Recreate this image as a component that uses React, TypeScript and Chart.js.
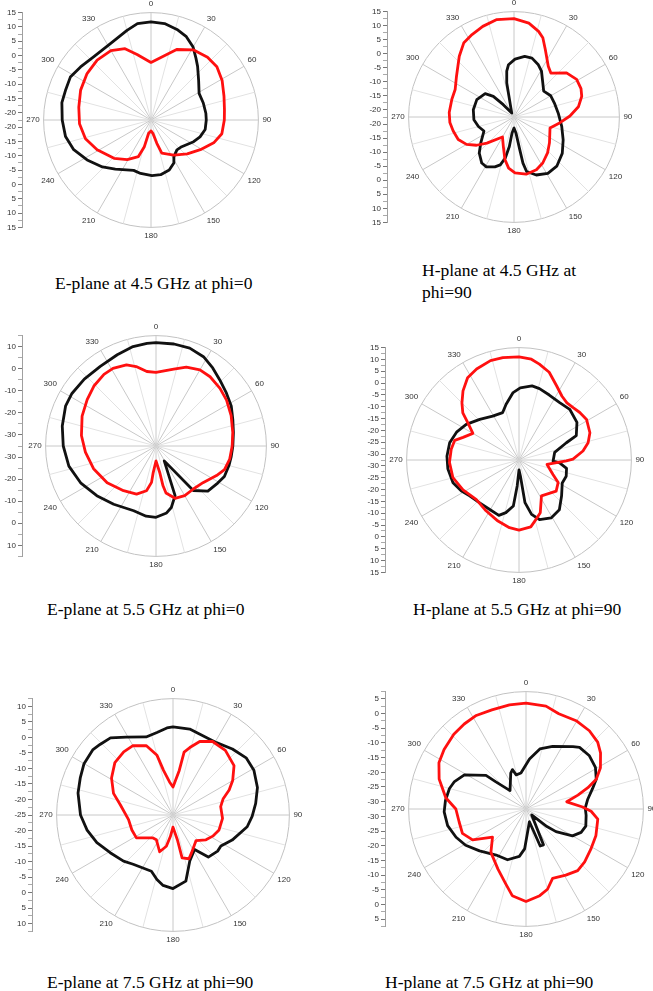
import React, { useEffect, useRef } from 'react';
import { Chart, registerables } from 'chart.js';

Chart.register(...registerables);

// Angle categories: one per degree, clockwise from the top.
const ANGLE_LABELS: string[] = Array.from({ length: 360 }, (_, i) => String(i));

// ---- E-plane at 4.5 GHz (phi = 0) ----
const e45BlackAngles = [0, 8, 16, 23, 30, 36, 41, 50, 61, 72, 83, 90, 100, 109, 117, 131, 139, 148, 152, 160, 170, 179, 191, 199, 216, 226, 238, 249, 259, 270, 281, 289, 298, 307, 318, 332, 345, 352];
const e45BlackGain = [11.8, 11.5, 10.4, 9.1, 6.9, 4.2, 2.3, -0.8, -3.3, -3.3, -3.2, -3.2, -3.3, -4.4, -5.8, -8.3, -8.7, -7.4, -5.5, -3.9, -3.1, -3.1, -3.5, -3.9, -1.3, 1.1, 3.8, 6.4, 7.9, 8.5, 9.2, 9.1, 9.4, 8.3, 7.3, 7.7, 9.9, 11.5];
const e45RedAngles = [0, 20, 31, 42, 51, 61, 72, 82, 90, 101, 110, 121, 133, 147, 162, 166, 172, 180, 190, 194, 199, 211, 224, 241, 254, 267, 280, 293, 306, 318, 330, 340, 348];
const e45RedGain = [-2.4, 3.7, 6.1, 7.0, 7.1, 5.9, 4.3, 3.4, 3.1, 2.7, 0.8, -2.4, -5.2, -7.9, -10.3, -14.1, -17.8, -18.7, -17.8, -12.9, -9.0, -6.4, -3.9, -1.0, 1.3, 2.5, 3.1, 4.2, 5.1, 5.6, 5.5, 4.0, 0.9];

// ---- H-plane at 4.5 GHz (phi = 90) ----
const h45BlackAngles = [1, 10, 17, 25, 31, 39, 49, 60, 71, 85, 101, 115, 127, 139, 149, 159, 167, 169, 170, 173, 180, 187, 189, 192, 196, 201, 209, 215, 224, 232, 245, 255, 266, 280, 295, 309, 315, 319, 330, 348, 351, 354];
const h45BlackGain = [-1.9, -0.6, -0.6, -2.0, -3.5, -6.3, -8.5, -7.4, -7.3, -6.7, -5.2, -3.2, -1.0, 0.7, 0.9, -0.4, -2.6, -5.8, -10.7, -16.8, -18.6, -16.8, -11.9, -7.6, -4.8, -3.5, -2.2, -2.5, -4.7, -7.5, -10.7, -9.4, -8.2, -7.8, -7.9, -9.3, -12.1, -16.7, -20.9, -10.1, -6.0, -3.8];
const h45RedAngles = [0, 9, 16, 20, 25, 34, 40, 50, 59, 67, 73, 81, 89, 97, 107, 126, 137, 148, 157, 168, 179, 186, 192, 200, 210, 226, 233, 240, 248, 257, 265, 274, 286, 295, 305, 318, 326, 333, 341, 350];
const h45RedGain = [12.5, 11.3, 9.2, 7.5, 3.9, -0.7, -2.1, 1.9, 3.5, 3.4, 2.7, 0.7, -2.6, -6.0, -9.1, -6.9, -5.0, -3.2, -2.1, -1.7, -2.6, -4.2, -7.0, -11.4, -14.3, -9.1, -5.8, -3.0, -1.1, -0.3, 0.4, 0.6, 0.5, 0.6, 2.5, 6.6, 9.4, 10.4, 11.6, 12.7];

// ---- E-plane at 5.5 GHz (phi = 0) ----
const e55BlackAngles = [0, 10, 19, 28, 36, 44, 53, 62, 71, 80, 90, 98, 105, 114, 121, 131, 140, 151, 159, 166, 171, 180, 188, 199, 216, 230, 244, 257, 270, 282, 294, 302, 313, 325, 337, 347, 355];
const e55BlackGain = [11.8, 11.9, 11.9, 10.8, 8.7, 6.6, 4.9, 3.6, 1.8, 0.6, -0.2, -0.6, -0.8, -1.1, -2.4, -3.9, -8.7, -27.3, -10.9, -6.3, -4.3, -2.7, -2.9, -4.0, -2.4, 0.0, 3.0, 5.5, 7.0, 8.4, 9.8, 9.9, 9.4, 9.0, 9.9, 11.2, 11.7];
const e55RedAngles = [0, 13, 21, 30, 38, 48, 57, 68, 80, 90, 100, 109, 116, 128, 139, 150, 160, 168, 170, 172, 180, 186, 187, 192, 202, 216, 233, 250, 265, 278, 292, 304, 314, 324, 331, 340, 346, 353];
const e55RedGain = [-1.7, 0.7, 3.3, 4.8, 4.8, 4.0, 3.1, 1.7, 0.3, -0.5, -1.1, -2.2, -4.5, -8.0, -9.2, -9.0, -9.8, -13.2, -16.7, -22.9, -28.2, -22.9, -18.4, -14.3, -11.5, -10.0, -7.3, -4.9, -2.9, -0.9, 1.1, 2.6, 4.1, 5.1, 5.2, 4.1, 2.1, -1.0];

// ---- H-plane at 5.5 GHz (phi = 90) ----
const h55BlackAngles = [1, 10, 16, 25, 35, 45, 57, 67, 70, 78, 92, 94, 100, 109, 118, 130, 141, 151, 161, 167, 172, 175, 180, 184, 187, 194, 200, 211, 223, 234, 242, 251, 263, 273, 284, 294, 304, 316, 329, 341, 347, 355];
const h55BlackGain = [-2.0, -0.7, -1.1, -2.2, -2.8, -2.2, -3.3, -6.2, -11.2, -17.1, -18.1, -15.3, -12.1, -11.4, -11.8, -9.0, -5.4, -4.5, -5.9, -8.9, -14.3, -25.7, -28.3, -21.5, -12.9, -9.6, -7.6, -8.2, -7.9, -6.7, -4.8, -3.0, -2.2, -2.0, -2.3, -3.6, -5.6, -8.6, -10.9, -11.3, -8.3, -3.9];
const h55RedAngles = [0, 7, 12, 19, 27, 34, 40, 46, 52, 59, 69, 76, 82, 89, 91, 99, 113, 120, 130, 148, 158, 164, 170, 180, 188, 199, 213, 227, 242, 255, 268, 279, 287, 292, 300, 306, 310, 315, 321, 328, 335, 344, 351];
const h55RedGain = [11.1, 10.4, 8.9, 6.7, 2.6, 0.0, -1.0, -0.7, 0.1, 0.8, -0.4, -2.4, -5.2, -9.7, -12.5, -20.5, -16.9, -13.4, -12.0, -14.6, -8.5, -6.4, -3.8, -2.9, -3.6, -5.2, -6.9, -7.9, -5.7, -3.6, -3.1, -3.5, -4.1, -7.0, -10.0, -5.8, -1.5, 1.6, 5.1, 8.5, 9.9, 11.2, 11.3];

// ---- E-plane at 7.5 GHz (phi = 90) ----
const e75BlackAngles = [0, 11, 21, 31, 42, 52, 61, 72, 82, 91, 99, 113, 123, 129, 140, 148, 160, 169, 180, 188, 194, 201, 219, 227, 239, 250, 260, 270, 283, 292, 300, 309, 314, 321, 329, 341, 349, 356];
const e75BlackGain = [3.4, 3.2, 2.3, 2.2, 3.6, 4.9, 4.8, 3.6, 1.9, 0.5, -0.8, -4.3, -6.6, -6.5, -7.3, -11.9, -9.2, -3.3, -1.3, -2.1, -3.6, -5.6, -4.6, -3.2, -1.4, 1.1, 3.1, 4.8, 6.4, 7.2, 8.1, 8.3, 7.7, 7.0, 4.3, 1.6, 2.1, 3.1];
const e75RedAngles = [0, 8, 10, 14, 20, 28, 39, 51, 60, 66, 72, 80, 94, 108, 118, 127, 138, 154, 160, 168, 170, 180, 187, 192, 200, 214, 221, 238, 250, 264, 281, 290, 301, 312, 322, 330, 339, 345, 348, 354];
const e75RedGain = [-16.0, -10.5, -4.4, -2.6, 0.2, 1.9, 1.8, 0.3, -2.8, -5.2, -8.0, -9.4, -9.0, -9.4, -10.5, -11.7, -13.9, -11.4, -10.0, -10.9, -16.9, -21.1, -18.0, -14.7, -12.4, -15.4, -15.2, -11.1, -10.9, -10.6, -7.7, -4.6, -1.9, 0.2, 0.8, 0.8, -1.1, -5.1, -10.3, -14.3];

// ---- H-plane at 7.5 GHz (phi = 90) ----
const h75BlackAngles = [4, 13, 23, 37, 41, 50, 59, 67, 73, 81, 89, 96, 106, 113, 120, 127, 130, 136, 154, 159, 165, 182, 188, 200, 213, 228, 239, 248, 258, 268, 276, 285, 291, 299, 310, 312, 319, 337, 341, 344, 352];
const h75BlackGain = [-15.4, -11.5, -9.3, -5.9, -4.7, -4.3, -4.9, -6.5, -8.8, -11.2, -12.3, -11.9, -11.3, -12.1, -14.2, -19.7, -23.2, -29.7, -18.9, -19.0, -28.0, -18.9, -16.2, -14.1, -13.8, -11.2, -8.5, -6.8, -5.2, -4.6, -4.9, -5.5, -6.4, -8.5, -14.7, -18.7, -24.2, -19.2, -18.3, -20.4, -20.1];
const h75RedAngles = [0, 11, 19, 30, 39, 47, 53, 61, 67, 71, 75, 80, 88, 92, 98, 111, 122, 132, 140, 149, 159, 165, 171, 180, 189, 195, 205, 219, 230, 240, 249, 259, 270, 278, 289, 298, 306, 316, 324, 332, 341, 351];
const h75RedGain = [3.6, 3.2, 1.8, 2.1, 1.8, 0.9, -0.7, -3.5, -6.5, -10.2, -14.2, -18.4, -13.2, -10.3, -7.8, -7.0, -6.5, -5.6, -5.1, -6.2, -7.2, -4.2, -2.6, -1.0, -2.6, -6.0, -9.9, -13.5, -17.6, -11.5, -9.3, -9.3, -8.6, -4.9, -1.2, 1.1, 2.0, 2.9, 3.3, 3.6, 3.2, 3.4];

// Radial ranges (dB at centre, dB at outer ring) and label step of the side axis.
const e45Range = [-22.5, 15, 5];
const h45Range = [-22.5, 15, 5];
const e55Range = [-35, 15, 10];
const h55Range = [-32.5, 15, 5];
const e75Range = [-25, 12.5, 5];
const h75Range = [-32.5, 7.5, 5];

const captionE45 = ['E-plane at 4.5 GHz at phi=0'];
const captionH45 = ['H-plane at 4.5 GHz at', 'phi=90'];
const captionE55 = ['E-plane at 5.5 GHz at phi=0'];
const captionH55 = ['H-plane at 5.5 GHz at phi=90'];
const captionE75 = ['E-plane at 7.5 GHz at phi=90'];
const captionH75 = ['H-plane at 7.5 GHz at phi=90'];

const AXIS_WIDTH = 22;
const LABEL_FONT = '"Liberation Sans", Arial, sans-serif';

function toSeries(angles: number[], gains: number[]): (number | null)[] {
  const out: (number | null)[] = new Array(360).fill(null);
  angles.forEach((a, i) => {
    out[((a % 360) + 360) % 360] = gains[i];
  });
  return out;
}

// Keeps the side dB axis the same length as the polar circle's diameter.
const axisToCircle = {
  id: 'axisToCircle',
  afterLayout(chart: any) {
    const r = chart.scales.r;
    const y = chart.scales.y;
    if (!r || !y) return;
    const top = r.yCenter - r.drawingArea;
    const bottom = r.yCenter + r.drawingArea;
    y.top = top;
    y.bottom = bottom;
    y.height = bottom - top;
    y.configure();
    chart.chartArea.top = top;
    chart.chartArea.bottom = bottom;
    chart.chartArea.height = bottom - top;
  },
};

type PanelProps = {
  box: { left: number; top: number; width: number; height: number };
  range: number[];
  black: [number[], number[]];
  red: [number[], number[]];
};

function PolarPanel({ box, range, black, red }: PanelProps) {
  const ref = useRef<HTMLCanvasElement>(null);

  useEffect(() => {
    if (!ref.current) return;
    const [rMin, rMax, step] = range;
    const span = rMax - rMin;
    const minor = step / 2;
    const isMajor = (v: number) => {
      const L = rMin + Math.abs(v);
      return Math.abs(L / step - Math.round(L / step)) < 1e-6;
    };
    const yTicks: number[] = [];
    for (let v = 0; v <= span + 1e-6; v += minor) {
      yTicks.push(v);
      if (v > 0) yTicks.push(-v);
    }
    yTicks.sort((a, b) => a - b);

    const lineStyle = {
      borderWidth: 2.8,
      borderJoinStyle: 'round',
      borderCapStyle: 'round',
      pointRadius: 0,
      pointHoverRadius: 0,
      fill: false,
      spanGaps: true,
      tension: 0,
      clip: false,
    };

    const chart = new Chart(ref.current, {
      type: 'radar',
      data: {
        labels: ANGLE_LABELS,
        datasets: [
          { data: toSeries(red[0], red[1]), borderColor: '#ff1010', ...lineStyle } as any,
          { data: toSeries(black[0], black[1]), borderColor: '#111111', ...lineStyle } as any,
        ],
      },
      options: {
        responsive: false,
        animation: false,
        events: [],
        layout: { padding: 0 },
        plugins: { legend: { display: false }, tooltip: { enabled: false } },
        scales: {
          r: {
            type: 'radialLinear',
            min: rMin,
            max: rMax,
            beginAtZero: false,
            startAngle: 0,
            afterBuildTicks: (s: any) => {
              s.ticks = [{ value: rMin }, { value: rMax }];
            },
            ticks: { display: false },
            grid: { circular: true, color: '#c2c2c2', lineWidth: 1 },
            angleLines: {
              display: true,
              color: (c: any) => (c.index % 30 === 0 ? '#c8c8c8' : c.index % 15 === 0 ? '#e2e2e2' : 'rgba(0,0,0,0)'),
              lineWidth: (c: any) => (c.index % 15 === 0 ? 1 : 0),
            },
            pointLabels: {
              display: true,
              padding: 4,
              color: '#333',
              font: { size: 8, family: LABEL_FONT },
              callback: (label: string, index: number) => (index % 30 === 0 ? label : ''),
            },
          } as any,
          y: {
            type: 'linear',
            position: 'left',
            min: -span,
            max: span,
            afterBuildTicks: (s: any) => {
              s.ticks = yTicks.map((v) => ({ value: v }));
            },
            afterFit: (s: any) => {
              s.width = AXIS_WIDTH;
              s.paddingTop = 0;
              s.paddingBottom = 0;
            },
            ticks: {
              autoSkip: false,
              padding: 2,
              color: '#333',
              font: { size: 8, family: LABEL_FONT },
              callback: (v: any) => {
                if (!isMajor(v)) return '';
                const L = Math.round((rMin + Math.abs(v)) * 10) / 10;
                return String(L);
              },
            },
            grid: {
              drawOnChartArea: false,
              drawTicks: true,
              tickLength: 4,
              tickColor: (c: any) => (c.tick && isMajor(c.tick.value) ? '#777' : '#aaa'),
            },
            border: { display: true, color: '#a0a0a0', width: 1 },
          } as any,
        },
      },
      plugins: [axisToCircle],
    });
    return () => chart.destroy();
  }, []);

  return (
    <canvas
      ref={ref}
      width={box.width}
      height={box.height}
      style={{ position: 'absolute', left: box.left, top: box.top }}
    />
  );
}

function Caption({ lines, left, top }: { lines: string[]; left: number; top: number }) {
  return (
    <div
      style={{
        position: 'absolute',
        left,
        top,
        fontSize: 17.5,
        lineHeight: '22px',
        color: '#000',
        whiteSpace: 'nowrap',
      }}
    >
      {lines.map((l, i) => (
        <div key={i}>{l}</div>
      ))}
    </div>
  );
}

export default function App() {
  return (
    <div
      style={{
        position: 'absolute',
        left: 0,
        top: 0,
        width: 653,
        height: 991,
        overflow: 'hidden',
        background: '#fff',
        fontFamily: '"Liberation Serif", "Times New Roman", serif',
      }}
    >
      <PolarPanel box={{ left: 0, top: -1, width: 276, height: 243 }} range={e45Range} black={[e45BlackAngles, e45BlackGain]} red={[e45RedAngles, e45RedGain]} />
      <PolarPanel box={{ left: 365, top: -2, width: 272, height: 238 }} range={h45Range} black={[h45BlackAngles, h45BlackGain]} red={[h45RedAngles, h45RedGain]} />
      <PolarPanel box={{ left: 0, top: 322, width: 286, height: 249 }} range={e55Range} black={[e55BlackAngles, e55BlackGain]} red={[e55RedAngles, e55RedGain]} />
      <PolarPanel box={{ left: 363, top: 335, width: 287, height: 252 }} range={h55Range} black={[h55BlackAngles, h55BlackGain]} red={[h55RedAngles, h55RedGain]} />
      <PolarPanel box={{ left: 10, top: 685, width: 301, height: 261 }} range={e75Range} black={[e75BlackAngles, e75BlackGain]} red={[e75RedAngles, e75RedGain]} />
      <PolarPanel box={{ left: 363, top: 679, width: 301, height: 262 }} range={h75Range} black={[h75BlackAngles, h75BlackGain]} red={[h75RedAngles, h75RedGain]} />

      <Caption lines={captionE45} left={55} top={272} />
      <Caption lines={captionH45} left={422} top={259} />
      <Caption lines={captionE55} left={47} top={598} />
      <Caption lines={captionH55} left={413} top={598} />
      <Caption lines={captionE75} left={47} top={971} />
      <Caption lines={captionH75} left={385} top={971} />
    </div>
  );
}
